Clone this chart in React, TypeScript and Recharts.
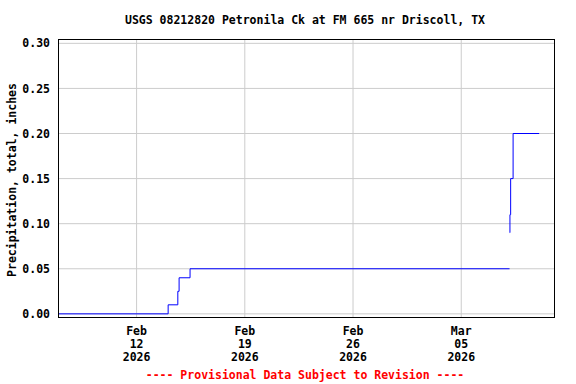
import React from 'react';
import { LineChart, Line, XAxis, YAxis, CartesianGrid } from 'recharts';

// hours since Feb 07 2026 00:00
const hours = [-2, 169, 184, 186, 203, 699, 699.2, 699.4, 699.6, 700.7, 704.5, 745];
const precip: (number | null)[] = [0, 0.01, 0.025, 0.04, 0.05, 0.05, null, 0.09, 0.11, 0.15, 0.2, 0.2];

const xTicks = [120, 288, 456, 624];
const xTickLabels = [
  ['Feb', '12', '2026'],
  ['Feb', '19', '2026'],
  ['Feb', '26', '2026'],
  ['Mar', '05', '2026'],
];
const yTicks = [0, 0.05, 0.1, 0.15, 0.2, 0.25, 0.3];

const title = 'USGS 08212820 Petronila Ck at FM 665 nr Driscoll, TX';
const yLabel = 'Precipitation, total, inches';
const footer = '---- Provisional Data Subject to Revision ----';

const rows = hours.map((h, i) => ({ h, v: precip[i] }));

const FONT = '"DejaVu Sans Mono", monospace';

const DateTick = (props: any) => {
  const { x, y, payload } = props;
  const idx = xTicks.indexOf(payload.value);
  const lines = xTickLabels[idx] || [];
  return (
    <text x={x} y={y} textAnchor="middle" fontFamily={FONT} fontWeight="bold" fontSize={11.5} fill="#000">
      {lines.map((s, i) => (
        <tspan key={i} x={x} dy={i === 0 ? 10 : 13}>{s}</tspan>
      ))}
    </text>
  );
};

export default function App() {
  return (
    <div style={{ position: 'absolute', left: 0, top: 0, width: 576, height: 384, background: '#fff', fontFamily: FONT }}>
      <div style={{ position: 'absolute', left: 0, top: 13, width: 610, textAlign: 'center', fontWeight: 'bold', fontSize: 11.5 }}>
        {title}
      </div>
      <div style={{ position: 'absolute', left: 0, top: 368, width: 610, textAlign: 'center', fontWeight: 'bold', fontSize: 11.5, color: '#ff0000' }}>
        {footer}
      </div>
      <div
        style={{
          position: 'absolute', left: 12, top: 181, width: 0, height: 0,
        }}
      >
        <div style={{ position: 'absolute', left: -150, top: -8, width: 300, textAlign: 'center', fontWeight: 'bold', fontSize: 11.5, transform: 'rotate(-90deg)', whiteSpace: 'nowrap' }}>
          {yLabel}
        </div>
      </div>
      <LineChart width={576} height={384} data={rows} margin={{ top: 40, right: 22, bottom: 0, left: 0 }}>
        <CartesianGrid stroke="#cccccc" strokeWidth={1} horizontalValues={yTicks} verticalValues={xTicks} />
        <XAxis
          dataKey="h"
          type="number"
          domain={[-2, 768]}
          allowDataOverflow
          ticks={xTicks}
          tick={<DateTick />}
          tickLine={false}
          axisLine={false}
          height={67}
          interval={0}
        />
        <YAxis
          type="number"
          domain={[-0.0035, 0.3037]}
          allowDataOverflow
          ticks={yTicks}
          tickFormatter={(v: number) => v.toFixed(2)}
          tick={{ fontFamily: FONT, fontWeight: 'bold', fontSize: 11.5, fill: '#000' }}
          tickLine={false}
          axisLine={false}
          width={58}
          interval={0}
        />
        <Line
          type="stepAfter"
          dataKey="v"
          stroke="#0000ff"
          strokeWidth={1}
          dot={false}
          connectNulls={false}
          isAnimationActive={false}
        />
      </LineChart>
      <div style={{ position: 'absolute', left: 58, top: 39, width: 495, height: 277, border: '1px solid #000', pointerEvents: 'none' }} />
    </div>
  );
}
